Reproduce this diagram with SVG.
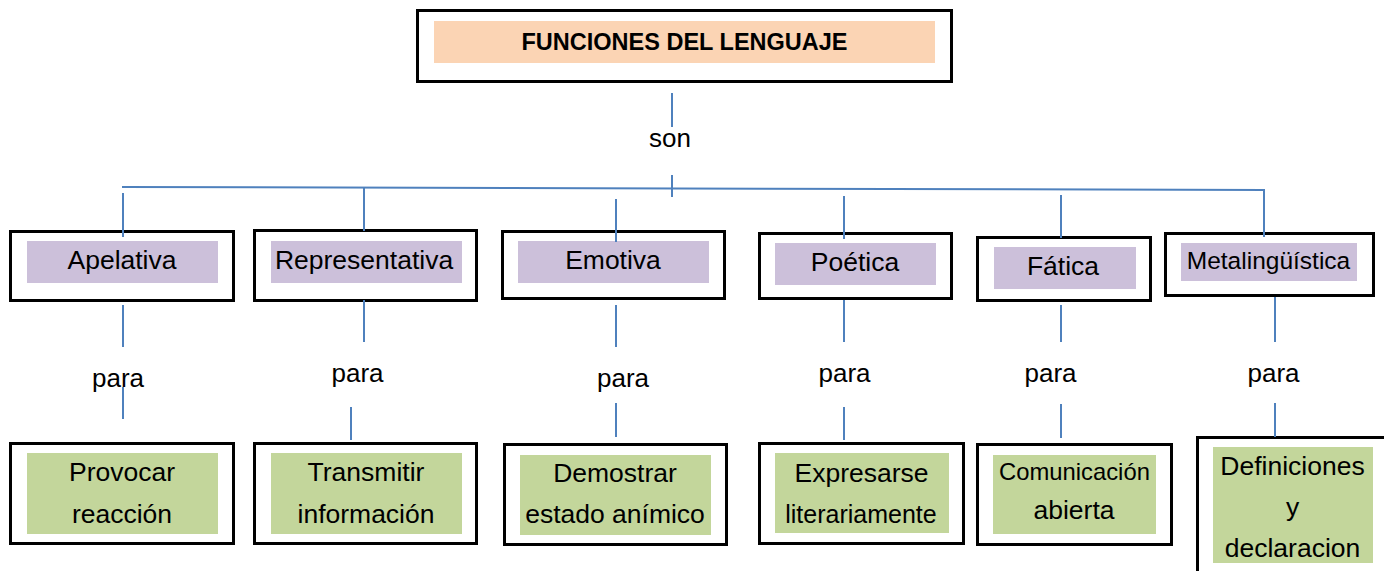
<svg xmlns="http://www.w3.org/2000/svg" width="1384" height="571" viewBox="0 0 1384 571">
<style>
.box{fill:#fff;stroke:#000;stroke-width:3}
.pur{fill:#CCC0DA}
.grn{fill:#C3D69B}
.org{fill:#FBD4B4}
text{font-family:"Liberation Sans",Arial,sans-serif;font-size:26.5px;fill:#000;text-anchor:middle}
.t{font-weight:bold;font-size:23.5px}
.c line{stroke:#4F81BD;stroke-width:2}
</style>
<rect width="1384" height="571" fill="#fff"/>
<g id="title">
<rect class="box" x="417.5" y="10.5" width="534" height="71"/>
<rect class="org" x="434" y="21" width="501" height="42"/>
<text class="t" x="684.5" y="50">FUNCIONES DEL LENGUAJE</text>
</g>
<g id="apelativa">
<rect class="box" x="10.5" y="231.5" width="223" height="69"/>
<rect class="pur" x="27" y="241" width="191" height="42"/>
<text x="122" y="269">Apelativa</text>
</g>
<g id="representativa">
<rect class="box" x="254.5" y="230.5" width="222" height="70"/>
<rect class="pur" x="271" y="241" width="191" height="42"/>
<text x="364" y="269">Representativa</text>
</g>
<g id="emotiva">
<rect class="box" x="502.5" y="231.5" width="222" height="67"/>
<rect class="pur" x="518" y="241" width="191" height="42"/>
<text x="613" y="269">Emotiva</text>
</g>
<g id="poetica">
<rect class="box" x="759.5" y="233.5" width="192" height="65"/>
<rect class="pur" x="775" y="243" width="161" height="42"/>
<text x="855" y="271">Poética</text>
</g>
<g id="fatica">
<rect class="box" x="977.5" y="237.5" width="173" height="63"/>
<rect class="pur" x="994" y="247" width="142" height="42"/>
<text x="1063" y="275">Fática</text>
</g>
<g id="metalinguistica">
<rect class="box" x="1165.5" y="233.5" width="208" height="62"/>
<rect class="pur" x="1181" y="243" width="176" height="38"/>
<text x="1268.5" y="269" style="font-size:24.5px">Metalingüística</text>
</g>
<g id="provocar">
<rect class="box" x="10.5" y="443.5" width="223" height="100"/>
<rect class="grn" x="27" y="453" width="191" height="81"/>
<text x="122" y="481">Provocar</text>
<text x="122" y="523">reacción</text>
</g>
<g id="transmitir">
<rect class="box" x="254.5" y="443.5" width="222" height="100"/>
<rect class="grn" x="271" y="453" width="191" height="81"/>
<text x="366" y="481">Transmitir</text>
<text x="366" y="523">información</text>
</g>
<g id="demostrar">
<rect class="box" x="504.5" y="444.5" width="222" height="100"/>
<rect class="grn" x="520" y="455" width="191" height="80"/>
<text x="615" y="482">Demostrar</text>
<text x="615" y="523">estado anímico</text>
</g>
<g id="expresarse">
<rect class="box" x="759.5" y="443.5" width="204" height="100"/>
<rect class="grn" x="775" y="453" width="174" height="80"/>
<text x="861.5" y="482">Expresarse</text>
<text x="861" y="523" style="font-size:25px">literariamente</text>
</g>
<g id="comunicacion">
<rect class="box" x="977.5" y="444.5" width="194" height="100"/>
<rect class="grn" x="993" y="455" width="163" height="79"/>
<text x="1074.5" y="480" style="font-size:23.8px">Comunicación</text>
<text x="1074" y="519">abierta</text>
</g>
<g id="definiciones">
<rect class="box" x="1197.5" y="437.5" width="200" height="150"/>
<rect class="grn" x="1213" y="447" width="160" height="116"/>
<text x="1292.5" y="474.5">Definiciones</text>
<text x="1292.5" y="516">y</text>
<text x="1292.5" y="557">declaracion</text>
</g>
<g id="connectors" class="c">
<line x1="672" y1="93" x2="672" y2="127"/>
<line x1="672" y1="175" x2="672" y2="197"/>
<line x1="122" y1="187" x2="1265" y2="190"/>
<line x1="123" y1="193" x2="123" y2="237"/>
<line x1="364" y1="187" x2="364" y2="231"/>
<line x1="616" y1="199" x2="616" y2="242"/>
<line x1="844" y1="196" x2="844" y2="239"/>
<line x1="1061" y1="195" x2="1061" y2="238"/>
<line x1="1264" y1="190" x2="1264" y2="237"/>
<line x1="123" y1="305" x2="123" y2="347"/>
<line x1="123" y1="387" x2="123" y2="419"/>
<line x1="364" y1="300" x2="364" y2="342"/>
<line x1="351" y1="407" x2="351" y2="440"/>
<line x1="616" y1="305" x2="616" y2="347"/>
<line x1="616" y1="403" x2="616" y2="437"/>
<line x1="844" y1="300" x2="844" y2="342"/>
<line x1="844" y1="407" x2="844" y2="440"/>
<line x1="1061" y1="305" x2="1061" y2="342"/>
<line x1="1061" y1="404" x2="1061" y2="438"/>
<line x1="1275" y1="297" x2="1275" y2="342"/>
<line x1="1275" y1="403" x2="1275" y2="437"/>
</g>
<g id="labels">
<text x="670" y="147" style="font-size:26px">son</text>
<text x="118" y="387" style="font-size:26px">para</text>
<text x="357.5" y="382" style="font-size:26px">para</text>
<text x="623" y="387" style="font-size:26px">para</text>
<text x="844.5" y="382" style="font-size:26px">para</text>
<text x="1050.5" y="382" style="font-size:26px">para</text>
<text x="1273.5" y="382" style="font-size:26px">para</text>
</g>
</svg>
